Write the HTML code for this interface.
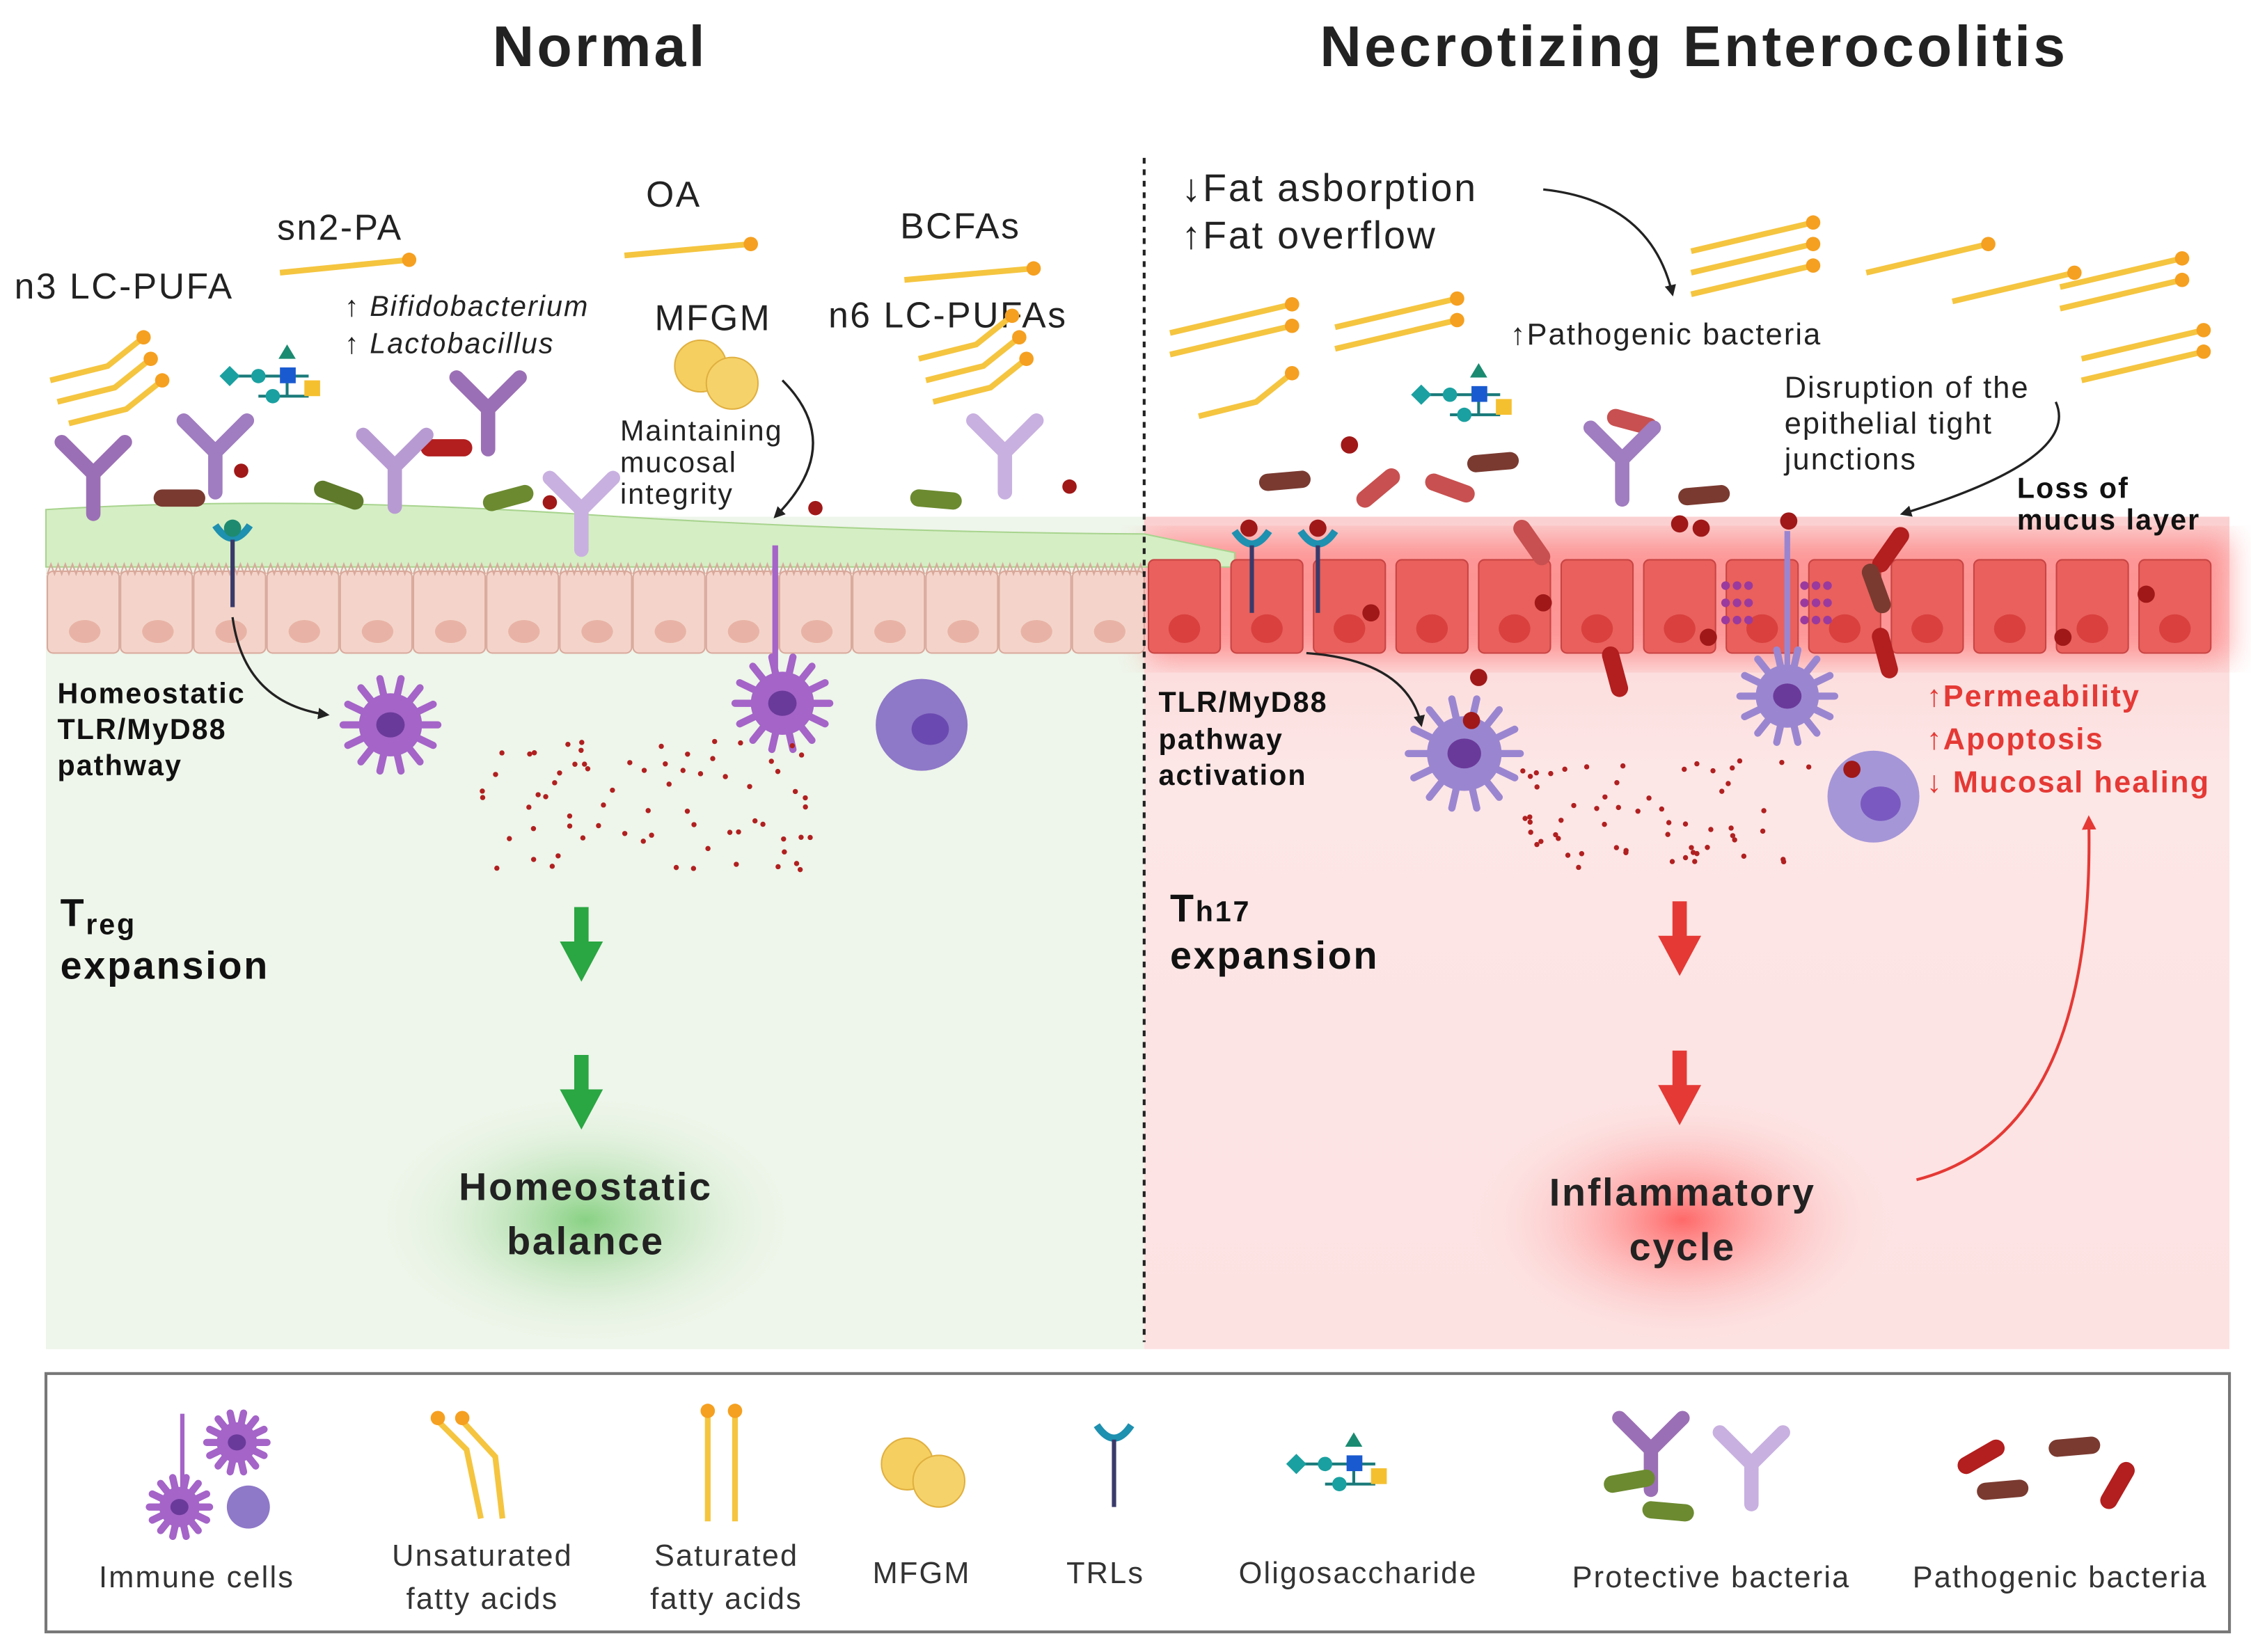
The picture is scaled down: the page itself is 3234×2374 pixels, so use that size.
<!DOCTYPE html>
<html><head><meta charset="utf-8"><style>
html,body{margin:0;padding:0;background:#fff}
svg{display:block}
text{font-family:"Liberation Sans",sans-serif;letter-spacing:0.05em}
</style></head><body>
<svg id="s" xmlns="http://www.w3.org/2000/svg" width="3234" height="2374" viewBox="0 0 1568 1151">
<defs>
<radialGradient id="gg"><stop offset="0" stop-color="#6fc86a" stop-opacity=".8"/><stop offset="1" stop-color="#eef5ea" stop-opacity="0"/></radialGradient>
<radialGradient id="rg"><stop offset="0" stop-color="#ff4a4a" stop-opacity=".8"/><stop offset="1" stop-color="#fde4e4" stop-opacity="0"/></radialGradient>
<linearGradient id="pk" x1="0" y1="0" x2="0" y2="1"><stop offset="0" stop-color="#fbd0d0"/><stop offset=".3" stop-color="#fde6e6"/><stop offset="1" stop-color="#fde2e2"/></linearGradient>
<filter id="bl"><feGaussianBlur stdDeviation="10"/></filter>
<marker id="ar" viewBox="0 0 10 10" refX="8" refY="5" markerWidth="5" markerHeight="5" orient="auto"><path d="M0,0L10,5L0,10z" fill="#222"/></marker>
<marker id="arr" viewBox="0 0 10 10" refX="8" refY="5" markerWidth="5" markerHeight="5" orient="auto"><path d="M0,0L10,5L0,10z" fill="#e53935"/></marker>
</defs>
<text x="418" y="46" font-size="40" font-weight="bold" text-anchor="middle" fill="#222">Normal</text>
<text x="1180" y="46" font-size="40" font-weight="bold" text-anchor="middle" fill="#222">Necrotizing Enterocolitis</text>
<rect x="32" y="360" width="765" height="580" fill="#eef5ea"/>
<rect x="797" y="360" width="756" height="580" fill="url(#pk)"/>
<ellipse cx="408" cy="850" rx="150" ry="90" fill="url(#gg)"/>
<ellipse cx="1172" cy="850" rx="150" ry="90" fill="url(#rg)"/>
<rect x="800" y="375" width="753" height="85" fill="#ff6060" opacity=".55" filter="url(#bl)"/>
<path d="M32,355 Q200,345 400,358 T797,372 L860,385 L860,395 L32,395 Z" fill="#d5eec4" stroke="#a8d48e"/>
<g id="cells"></g>
<line x1="797" y1="110" x2="797" y2="935" stroke="#222" stroke-width="2" stroke-dasharray="4,4"/>
<text x="10" y="208" font-size="25" fill="#222">n3 LC-PUFA</text>
<text x="193" y="167" font-size="25" fill="#222">sn2-PA</text>
<text x="450" y="144" font-size="25" fill="#222">OA</text>
<text x="627" y="166" font-size="25" fill="#222">BCFAs</text>
<text x="456" y="230" font-size="25" fill="#222">MFGM</text>
<text x="577" y="228" font-size="25" fill="#222">n6 LC-PUFAs</text>
<text x="240" y="220" font-size="20" fill="#222">↑ <tspan font-style="italic">Bifidobacterium</tspan></text>
<text x="240" y="246" font-size="20" fill="#222">↑ <tspan font-style="italic">Lactobacillus</tspan></text>
<text x="432" y="307" font-size="20" fill="#222">Maintaining</text>
<text x="432" y="329" font-size="20" fill="#222">mucosal</text>
<text x="432" y="351" font-size="20" fill="#222">integrity</text>
<path d="M545,265 Q590,310 540,360" fill="none" stroke="#222" stroke-width="1.6" marker-end="url(#ar)"/>
<text x="40" y="490" font-size="20" font-weight="bold" fill="#111">Homeostatic</text>
<text x="40" y="515" font-size="20" font-weight="bold" fill="#111">TLR/MyD88</text>
<text x="40" y="540" font-size="20" font-weight="bold" fill="#111">pathway</text>
<path d="M162,430 Q170,490 228,498" fill="none" stroke="#222" stroke-width="1.6" marker-end="url(#ar)"/>
<text x="42" y="645" font-size="27" font-weight="bold" fill="#111">T<tspan font-size="20" dy="6">reg</tspan></text>
<text x="42" y="682" font-size="27" font-weight="bold" fill="#111">expansion</text>
<text x="408" y="836" font-size="27" font-weight="bold" fill="#222" text-anchor="middle">Homeostatic</text>
<text x="408" y="874" font-size="27" font-weight="bold" fill="#222" text-anchor="middle">balance</text>
<g fill="#2aa642"><path d="M400,632h10v24h10l-15,28l-15,-28h10z"/><path d="M400,735h10v24h10l-15,28l-15,-28h10z"/></g>
<text x="823" y="140" font-size="27" fill="#222">↓Fat asborption</text>
<text x="823" y="173" font-size="27" fill="#222">↑Fat overflow</text>
<path d="M1075,132 Q1150,140 1165,205" fill="none" stroke="#222" stroke-width="1.6" marker-end="url(#ar)"/>
<text x="1052" y="240" font-size="21" fill="#222">↑Pathogenic bacteria</text>
<text x="1243" y="277" font-size="21" fill="#222">Disruption of the</text>
<text x="1243" y="302" font-size="21" fill="#222">epithelial tight</text>
<text x="1243" y="327" font-size="21" fill="#222">junctions</text>
<path d="M1432,280 Q1450,320 1325,358" fill="none" stroke="#222" stroke-width="1.6" marker-end="url(#ar)"/>
<text x="1405" y="347" font-size="20" font-weight="bold" fill="#111">Loss of</text>
<text x="1405" y="369" font-size="20" font-weight="bold" fill="#111">mucus layer</text>
<text x="807" y="496" font-size="20" font-weight="bold" fill="#111">TLR/MyD88</text>
<text x="807" y="522" font-size="20" font-weight="bold" fill="#111">pathway</text>
<text x="807" y="547" font-size="20" font-weight="bold" fill="#111">activation</text>
<path d="M910,455 Q980,460 990,505" fill="none" stroke="#222" stroke-width="1.6" marker-end="url(#ar)"/>
<text x="1342" y="492" font-size="21" font-weight="bold" fill="#e53935">↑Permeability</text>
<text x="1342" y="522" font-size="21" font-weight="bold" fill="#e53935">↑Apoptosis</text>
<text x="1342" y="552" font-size="21" font-weight="bold" fill="#e53935">↓ Mucosal healing</text>
<path d="M1335,822 Q1460,790 1455,570" fill="none" stroke="#e53935" stroke-width="2" marker-end="url(#arr)"/>
<text x="815" y="642" font-size="27" font-weight="bold" fill="#111">T<tspan font-size="20">h17</tspan></text>
<text x="815" y="675" font-size="27" font-weight="bold" fill="#111">expansion</text>
<text x="1172" y="840" font-size="27" font-weight="bold" fill="#222" text-anchor="middle">Inflammatory</text>
<text x="1172" y="878" font-size="27" font-weight="bold" fill="#222" text-anchor="middle">cycle</text>
<g fill="#e53935"><path d="M1165,628h10v24h10l-15,28l-15,-28h10z"/><path d="M1165,732h10v24h10l-15,28l-15,-28h10z"/></g>
<rect x="32" y="957" width="1521" height="180" fill="#fff" stroke="#777" stroke-width="2"/>
<g font-size="21" fill="#333" text-anchor="middle">
<text x="137" y="1106">Immune cells</text>
<text x="336" y="1091">Unsaturated</text><text x="336" y="1121">fatty acids</text>
<text x="506" y="1091">Saturated</text><text x="506" y="1121">fatty acids</text>
<text x="642" y="1103">MFGM</text>
<text x="770" y="1103">TRLs</text>
<text x="946" y="1103">Oligosaccharide</text>
<text x="1192" y="1106">Protective bacteria</text>
<text x="1435" y="1106">Pathogenic bacteria</text>
</g>
<g id="deco"></g>
</svg>
<script>
var NS="http://www.w3.org/2000/svg";
function el(p,t,a){var e=document.createElementNS(NS,t);for(var k in a)e.setAttribute(k,a[k]);p.appendChild(e);return e;}
var c=document.getElementById('cells'),d=document.getElementById('deco');
for(var i=0;i<15;i++){var x=33+i*51;el(c,'rect',{x:x,y:398,width:50,height:57,rx:4,fill:'#f4d4ca',stroke:'#d9a99c'});
el(c,'ellipse',{cx:x+26,cy:440,rx:11,ry:8,fill:'#e8b3a6'});
el(c,'path',{d:'M'+x+',400 '+Array.from({length:10},(_,j)=>'l2.5,-7 l2.5,7').join(' '),fill:'none',stroke:'#d9a99c'});}
for(var i=0;i<13;i++){var x=800+i*57.5;el(c,'rect',{x:x,y:390,width:50,height:65,rx:4,fill:'#e9605c',stroke:'#c94444'});
el(c,'ellipse',{cx:x+25,cy:438,rx:11,ry:10,fill:'#d9403e'});}
function fa(x,y,x2,y2){el(d,'line',{x1:x,y1:y,x2:x2,y2:y2,stroke:'#f5c540','stroke-width':4});el(d,'circle',{cx:x2,cy:y2,r:5,fill:'#f5a020'});}
function ufa(x,y){el(d,'polyline',{points:(x)+','+(y)+' '+(x+40)+','+(y-10)+' '+(x+65)+','+(y-30),fill:'none',stroke:'#f5c540','stroke-width':4});el(d,'circle',{cx:x+65,cy:y-30,r:5,fill:'#f5a020'});}
fa(195,190,285,181);fa(435,178,523,170);fa(630,195,720,187);
[[35,265],[40,280],[48,295]].forEach(p=>ufa(p[0],p[1]));
[[640,250],[645,265],[650,280]].forEach(p=>ufa(p[0],p[1]));
[[815,232],[815,247],[930,228],[930,243],[1178,175],[1178,190],[1178,205],[1300,190],[1360,210],[1435,200],[1435,215],[1450,250],[1450,265]].forEach((p,i)=>fa(p[0],p[1],p[0]+85,p[1]-20));
ufa(835,290);
function bac(x,y,a,col){el(d,'rect',{x:x-18,y:y-6,width:36,height:12,rx:6,fill:col,transform:'rotate('+a+' '+x+' '+y+')'});}
bac(125,347,0,'#7a3a30');bac(236,345,20,'#5e7a2a');bac(311,312,0,'#b31e1e');bac(354,347,-15,'#6c8a30');bac(652,348,5,'#6c8a30');
bac(895,335,-5,'#7a3a30');bac(960,340,-40,'#c85050');bac(1010,340,20,'#c85050');bac(1040,322,-5,'#7a3a30');bac(1137,294,15,'#c85050');bac(1187,345,-5,'#7a3a30');bac(1067,378,55,'#c85050');bac(1317,383,-55,'#b31e1e');bac(1307,410,70,'#7a3a30');bac(1125,468,75,'#b31e1e');bac(1313,455,75,'#b31e1e');
function ycell(x,y,col){el(d,'path',{d:'M'+(x-22)+','+(y-22)+'L'+x+','+y+'L'+(x+22)+','+(y-22)+'M'+x+','+y+'L'+x+','+(y+28),stroke:col,'stroke-width':10,'stroke-linecap':'round',fill:'none'});}
ycell(65,330,'#9b6fb5');ycell(150,315,'#a07cc0');ycell(275,325,'#b89ad3');ycell(340,285,'#9b6fb5');ycell(405,355,'#c8b0e0');ycell(700,315,'#c8b0e0');ycell(1130,320,'#a07cc0');
function immune(x,y,r,col){for(var k=0;k<14;k++){var a=k*Math.PI/7;el(d,'line',{x1:x,y1:y,x2:x+Math.cos(a)*r*1.5,y2:y+Math.sin(a)*r*1.5,stroke:col,'stroke-width':5,'stroke-linecap':'round'});}
el(d,'circle',{cx:x,cy:y,r:r,fill:col});el(d,'ellipse',{cx:x,cy:y,rx:r*.45,ry:r*.4,fill:'#6a3a9a'});}
immune(272,505,22,'#a464c8');immune(545,490,22,'#a464c8');el(d,'line',{x1:540,y1:380,x2:540,y2:470,stroke:'#a464c8','stroke-width':4});
el(d,'circle',{cx:642,cy:505,r:32,fill:'#8e78c8'});el(d,'ellipse',{cx:648,cy:508,rx:13,ry:11,fill:'#6a4ab0'});
immune(1020,525,26,'#9a86d0');immune(1245,485,22,'#9a86d0');el(d,'line',{x1:1245,y1:370,x2:1245,y2:465,stroke:'#9a86d0','stroke-width':4});
el(d,'circle',{cx:1305,cy:555,r:32,fill:'#a596d8'});el(d,'ellipse',{cx:1310,cy:560,rx:14,ry:12,fill:'#7a5ac0'});
[[870,368],[918,368],[1246,363],[1185,368],[1025,502],[1290,536],[955,427],[1075,420],[1190,444],[1495,414],[1437,444],[1030,472],[940,310],[1170,365]].forEach(p=>el(d,'circle',{cx:p[0],cy:p[1],r:6,fill:'#a01818'}));
[[383,350],[568,354],[745,339],[168,328]].forEach(p=>el(d,'circle',{cx:p[0],cy:p[1],r:5,fill:'#a01818'}));
[[1210,420],[1265,420]].forEach(p=>{for(var a=0;a<3;a++)for(var b=0;b<3;b++)el(d,'circle',{cx:p[0]-8+b*8,cy:p[1]-12+a*12,r:3,fill:'#9b3a9e'});});
function trl(x,y){el(d,'path',{d:'M'+(x-12)+','+(y-12)+'Q'+x+','+(y+6)+' '+(x+12)+','+(y-12),stroke:'#1e90b0','stroke-width':5,fill:'none'});el(d,'line',{x1:x,y1:y-2,x2:x,y2:y+45,stroke:'#3a3a6a','stroke-width':3});}
trl(162,378);trl(872,382);trl(918,382);el(d,'circle',{cx:162,cy:368,r:6,fill:'#1e8a70'});
var seed=3;function rnd(){seed=(seed*9301+49297)%233280;return seed/233280;}
function dots(x0,y0,w,h,n){for(var k=0;k<n;k++){el(d,'circle',{cx:x0+rnd()*w,cy:y0+rnd()*h,r:1.8,fill:'#b02020'});}}
dots(330,515,240,95,70);dots(1060,530,200,75,60);
function oligo(x,y){el(d,'line',{x1:x,y1:y,x2:x+55,y2:y,stroke:'#1a7a7a','stroke-width':2});el(d,'line',{x1:x+40,y1:y,x2:x+40,y2:y+14,stroke:'#1a7a7a','stroke-width':2});el(d,'line',{x1:x+20,y1:y+14,x2:x+55,y2:y+14,stroke:'#1a7a7a','stroke-width':2});
el(d,'rect',{x:x-5,y:y-5,width:10,height:10,fill:'#1aa0a0',transform:'rotate(45 '+x+' '+y+')'});el(d,'circle',{cx:x+20,cy:y,r:5,fill:'#1aa0a0'});el(d,'rect',{x:x+35,y:y-6,width:11,height:11,fill:'#1a5ad0'});
el(d,'rect',{x:x+52,y:y+3,width:11,height:11,fill:'#f5c030'});el(d,'circle',{cx:x+30,cy:y+14,r:5,fill:'#1aa0a0'});el(d,'path',{d:'M'+(x+34)+','+(y-12)+'l6,-10l6,10z',fill:'#1a8a70'});}
oligo(160,262);oligo(990,275);oligo(903,1020);
function mfgm(x,y){el(d,'circle',{cx:x,cy:y,r:18,fill:'#f5cf60',stroke:'#e0b040'});el(d,'circle',{cx:x+22,cy:y+12,r:18,fill:'#f6d36a',stroke:'#e0b040'});}
mfgm(488,255);mfgm(632,1020);
immune(165,1005,14,'#a464c8');immune(125,1050,14,'#a464c8');el(d,'line',{x1:127,y1:985,x2:127,y2:1040,stroke:'#a464c8','stroke-width':3});el(d,'circle',{cx:173,cy:1050,r:15,fill:'#8e78c8'});
el(d,'polyline',{points:'305,990 325,1010 335,1058',fill:'none',stroke:'#f5c540','stroke-width':4});el(d,'polyline',{points:'322,990 345,1015 350,1058',fill:'none',stroke:'#f5c540','stroke-width':4});
el(d,'circle',{cx:305,cy:988,r:5,fill:'#f5a020'});el(d,'circle',{cx:322,cy:988,r:5,fill:'#f5a020'});
el(d,'line',{x1:493,y1:985,x2:493,y2:1060,stroke:'#f5c540','stroke-width':4});el(d,'line',{x1:512,y1:985,x2:512,y2:1060,stroke:'#f5c540','stroke-width':4});
el(d,'circle',{cx:493,cy:983,r:5,fill:'#f5a020'});el(d,'circle',{cx:512,cy:983,r:5,fill:'#f5a020'});
trl(776,1005);
ycell(1150,1010,'#9b6fb5');ycell(1220,1020,'#c8b0e0');bac(1135,1032,-10,'#6c8a30');bac(1162,1053,5,'#6c8a30');
bac(1380,1015,-30,'#b31e1e');bac(1445,1008,-5,'#7a3a30');bac(1395,1038,-5,'#7a3a30');bac(1475,1035,-60,'#b31e1e');
</script>
</body></html>
